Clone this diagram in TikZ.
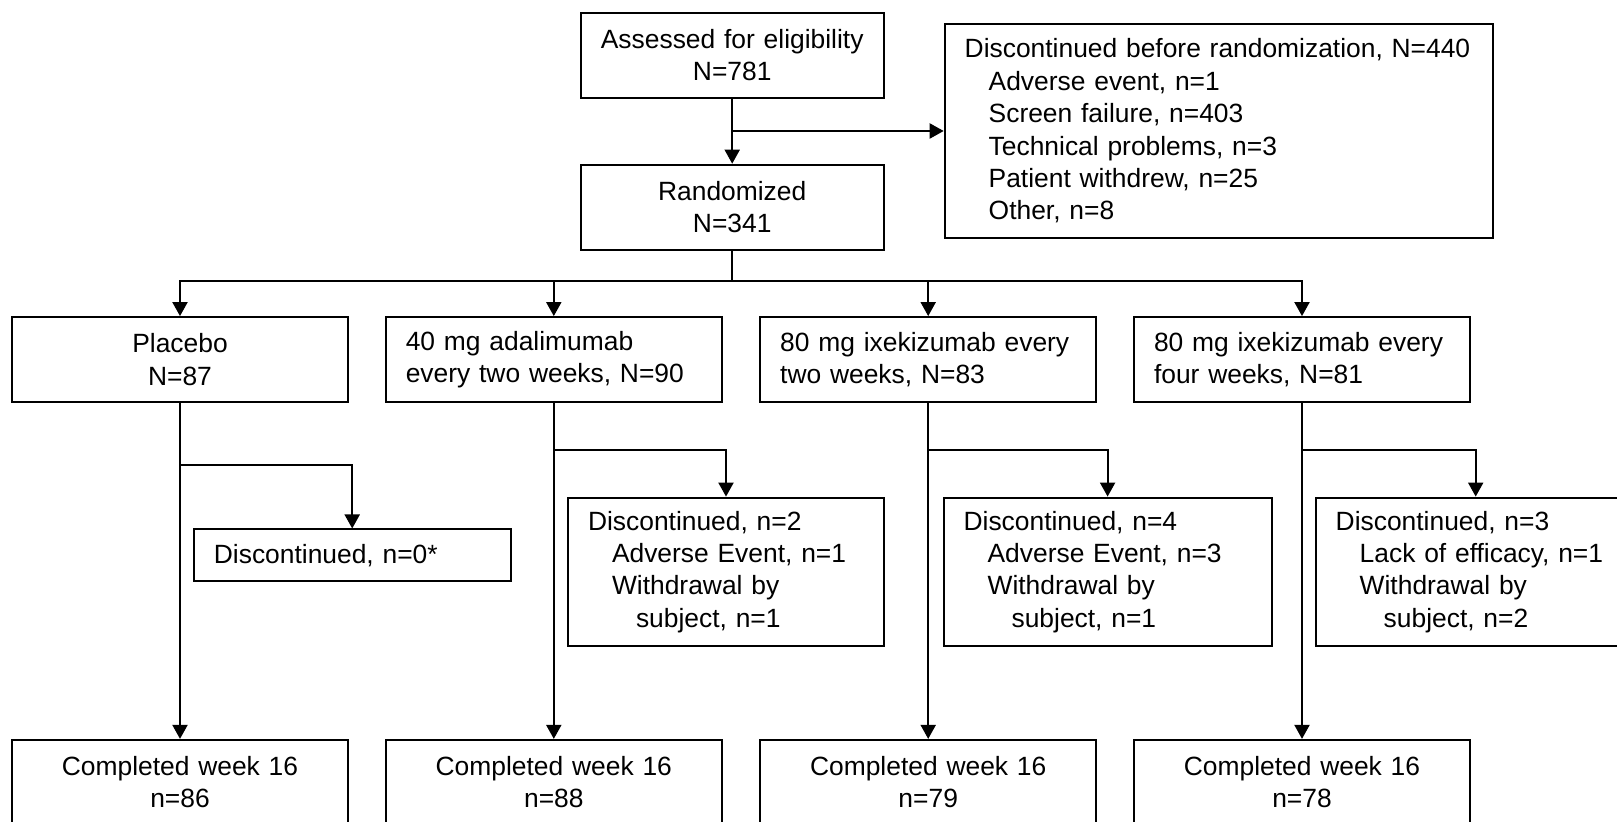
\documentclass[tikz,border=0pt]{standalone}
\usepackage{fontspec}
\setmainfont{Liberation Sans}
\usepackage{tikz}
\usetikzlibrary{arrows.meta,positioning}
\tikzstyle{box} = [rectangle, draw=black, line width=1pt, inner xsep=10pt, inner ysep=0pt, font=\fontsize{13.2}{16.2}\selectfont]
\tikzstyle{arm} = [box, text width=148pt, minimum height=42.3pt]
\tikzstyle{disc} = [box, text width=138pt, minimum height=74.3pt, align=left]
\tikzstyle{arrow} = [line width=1pt,-{Triangle[length=7pt,width=7.5pt]}]
\tikzstyle{line} = [line width=1pt]

\begin{document}
\begin{tikzpicture}[x=0.5pt, y=-0.5pt]
\useasboundingbox (0,0) rectangle (1617,822);
% Screening
\node (assess) [box, text width=131.6pt, minimum height=42.4pt, align=center] at (732.2,55.2) {Assessed for eligibility\\N=781};
\node (excl) [box, text width=254.3pt, minimum height=107.2pt, align=left] at (1219,131) {
Discontinued before randomization, N=440\\
\hspace*{12pt}Adverse event, n=1\\
\hspace*{12pt}Screen failure, n=403\\
\hspace*{12pt}Technical problems, n=3\\
\hspace*{12pt}Patient withdrew, n=25\\
\hspace*{12pt}Other, n=8};
\node (rand) [box, text width=131.6pt, minimum height=42.6pt, align=center] at (732.2,207.3) {Randomized\\N=341};

% Arms
\node (arm1) [arm, align=center] at (180,359.4) {Placebo\\N=87};
\node (arm2) [arm, align=left] at (553.8,359.4) {40 mg adalimumab\\every two weeks, N=90};
\node (arm3) [arm, align=left] at (928.2,359.4) {80 mg ixekizumab every\\two weeks, N=83};
\node (arm4) [arm, align=left] at (1302,359.4) {80 mg ixekizumab every\\four weeks, N=81};

% Discontinued
\node (disc1) [box, text width=138.3pt, minimum height=25.8pt, align=left] at (352.2,555.3) {Discontinued, n=0*};
\node (disc2) [disc] at (726,571.9) {
Discontinued, n=2\\
\hspace*{12pt}Adverse Event, n=1\\
\hspace*{12pt}Withdrawal by\\
\hspace*{24pt}subject, n=1};
\node (disc3) [disc, text width=144pt] at (1107.6,571.9) {
Discontinued, n=4\\
\hspace*{12pt}Adverse Event, n=3\\
\hspace*{12pt}Withdrawal by\\
\hspace*{24pt}subject, n=1};
\node (disc4) [disc, text width=140pt] at (1475.7,571.9) {
Discontinued, n=3\\
\hspace*{12pt}Lack of efficacy, n=1\\
\hspace*{12pt}Withdrawal by\\
\hspace*{24pt}subject, n=2};

% Completed
\node (done1) [arm, align=center] at (180,782.2) {Completed week 16\\n=86};
\node (done2) [arm, align=center] at (553.8,782.2) {Completed week 16\\n=88};
\node (done3) [arm, align=center] at (928.2,782.2) {Completed week 16\\n=79};
\node (done4) [arm, align=center] at (1302,782.2) {Completed week 16\\n=78};

% Arrows
\coordinate (exsplit) at (732.2,131);
\coordinate (split) at (732.2,281.5);
\coordinate (drop1) at (180,465.1);
\coordinate (drop2) at (553.8,449.6);
\coordinate (drop3) at (928.2,449.6);
\coordinate (drop4) at (1302,449.6);
\draw[arrow] (assess) -- (rand);
\draw[arrow] (exsplit) -- (excl);
\draw[line] (rand) -- (split);
\foreach \i in {1,...,4} {
  \draw[arrow] (split) -| (arm\i);
  \draw[arrow] (arm\i) -- (done\i);
  \draw[arrow] (drop\i) -| (disc\i);
}
\end{tikzpicture}
\end{document}
